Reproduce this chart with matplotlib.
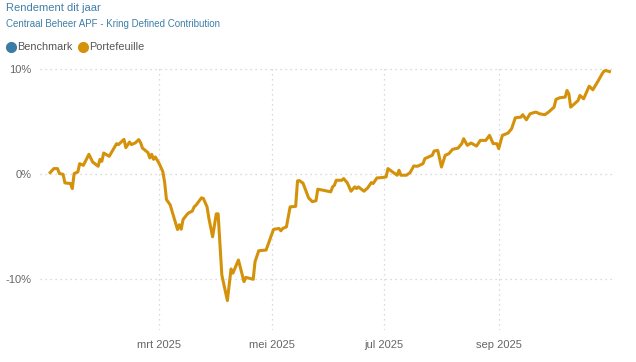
import pandas as pd
import matplotlib.pyplot as plt
import matplotlib.dates as mdates
from matplotlib.lines import Line2D
from matplotlib.ticker import FuncFormatter

plt.rcParams['font.family'] = ['Liberation Sans', 'DejaVu Sans']

# --- data (year-to-date return, %) ---
dates = [
    "2025-01-01", "2025-01-03", "2025-01-05", "2025-01-06", "2025-01-08", "2025-01-09",
    "2025-01-12", "2025-01-13", "2025-01-14", "2025-01-16", "2025-01-17", "2025-01-19",
    "2025-01-22", "2025-01-24", "2025-01-27", "2025-01-28", "2025-01-29", "2025-01-30",
    "2025-02-02", "2025-02-06", "2025-02-07", "2025-02-10", "2025-02-11", "2025-02-13",
    "2025-02-14", "2025-02-16", "2025-02-18", "2025-02-19", "2025-02-20", "2025-02-23",
    "2025-02-24", "2025-02-25", "2025-02-26", "2025-02-27", "2025-03-01", "2025-03-03",
    "2025-03-04", "2025-03-05", "2025-03-07", "2025-03-09", "2025-03-11", "2025-03-12",
    "2025-03-13", "2025-03-14", "2025-03-16", "2025-03-17", "2025-03-19", "2025-03-20",
    "2025-03-21", "2025-03-24", "2025-03-25", "2025-03-27", "2025-03-28", "2025-03-30",
    "2025-04-01", "2025-04-02", "2025-04-04", "2025-04-07", "2025-04-09", "2025-04-10",
    "2025-04-13", "2025-04-16", "2025-04-17", "2025-04-21", "2025-04-22", "2025-04-24",
    "2025-04-28", "2025-05-02", "2025-05-05", "2025-05-06", "2025-05-07", "2025-05-09",
    "2025-05-11", "2025-05-14", "2025-05-15", "2025-05-16", "2025-05-18", "2025-05-21",
    "2025-05-23", "2025-05-25", "2025-05-26", "2025-05-29", "2025-06-02", "2025-06-03",
    "2025-06-04", "2025-06-05", "2025-06-08", "2025-06-09", "2025-06-11", "2025-06-13",
    "2025-06-15", "2025-06-16", "2025-06-17", "2025-06-20", "2025-06-22", "2025-06-24",
    "2025-06-25", "2025-06-27", "2025-06-30", "2025-07-02", "2025-07-03", "2025-07-05",
    "2025-07-08", "2025-07-09", "2025-07-10", "2025-07-13", "2025-07-15", "2025-07-17",
    "2025-07-19", "2025-07-22", "2025-07-23", "2025-07-27", "2025-07-28", "2025-07-30",
    "2025-08-01", "2025-08-03", "2025-08-05", "2025-08-07", "2025-08-10", "2025-08-12",
    "2025-08-13", "2025-08-15", "2025-08-17", "2025-08-20", "2025-08-22", "2025-08-25",
    "2025-08-27", "2025-08-29", "2025-08-31", "2025-09-01", "2025-09-03", "2025-09-06",
    "2025-09-08", "2025-09-10", "2025-09-13", "2025-09-14", "2025-09-16", "2025-09-18",
    "2025-09-21", "2025-09-22", "2025-09-23", "2025-09-26", "2025-09-28", "2025-10-01",
    "2025-10-02", "2025-10-04", "2025-10-07", "2025-10-08", "2025-10-09", "2025-10-10",
    "2025-10-12", "2025-10-14", "2025-10-15", "2025-10-17", "2025-10-19", "2025-10-20",
    "2025-10-22", "2025-10-25", "2025-10-27", "2025-10-28", "2025-10-29", "2025-10-31",
]
portefeuille = [
    0.16, 0.54, 0.54, 0.07, 0.0, -0.82,
    -0.88, -1.36, 0.07, 0.22, 1.01, 0.85,
    1.9, 1.17, 0.76, 1.42, 1.23, 2.02,
    1.71, 2.91, 2.82, 3.32, 2.53, 3.06,
    2.82, 2.97, 3.29, 3.0, 2.49, 2.06,
    1.55, 1.9, 1.42, 1.64, 1.04, 0.27,
    -0.73, -2.4, -2.9, -4.07, -5.25, -4.8,
    -5.22, -4.3, -3.85, -3.67, -3.5, -3.1,
    -2.94, -2.24, -2.3, -3.1, -4.2, -5.94,
    -3.76, -3.76, -9.57, -12.0, -9.0, -9.4,
    -8.15, -10.2, -9.8, -9.98, -8.3, -7.27,
    -7.2, -5.24, -5.15, -5.37, -5.15, -5.0,
    -3.1, -3.05, -0.63, -0.6, -0.85, -2.24,
    -2.6, -2.52, -1.42, -1.52, -1.67, -1.2,
    -1.04, -0.57, -0.57, -0.41, -0.82, -1.61,
    -1.2, -1.36, -1.2, -1.61, -1.3, -0.79,
    -0.88, -0.35, -0.31, -0.25, 0.54, 0.28,
    -0.09, 0.38, -0.09, -0.09, 0.16, 0.79,
    0.76, 1.01, 1.49, 1.8, 2.21, 2.27,
    0.69, 1.8, 1.96, 2.37, 2.49, 2.91,
    3.38, 2.75, 2.97, 2.68, 3.22, 3.22,
    3.7, 2.91, 2.91, 2.44, 3.7, 3.91,
    4.33, 5.37, 5.43, 5.66, 5.18, 5.75,
    5.91, 5.85, 5.75, 5.66, 5.91, 6.38,
    7.11, 7.27, 7.33, 7.96, 7.65, 6.38,
    6.7, 7.01, 7.49, 7.17, 7.96, 8.37,
    8.03, 8.91, 9.54, 9.79, 9.86, 9.76,
]
month_ticks = ["2025-03-01", "2025-05-01", "2025-07-01", "2025-09-01"]
month_labels = ["mrt 2025", "mei 2025", "jul 2025", "sep 2025"]
y_ticks = [-10, 0, 10]

title = "Rendement dit jaar"
subtitle = "Centraal Beheer APF - Kring Defined Contribution"
legend_names = ["Benchmark", "Portefeuille"]
legend_colors = ["#3b7ca5", "#d4920b"]

# --- figure ---
fig = plt.figure(figsize=(6.36, 3.62), dpi=100)
ax = fig.add_axes([40 / 636, 32 / 362, 575 / 636, 262 / 362])

x = pd.to_datetime(dates)
ax.plot(x, portefeuille, color=legend_colors[1], lw=2.2, solid_joinstyle='round')

ax.set_xlim(pd.Timestamp("2024-12-26 12:00"), pd.Timestamp("2025-11-03"))
ax.set_ylim(-14.8, 10.1)

ax.set_xticks(pd.to_datetime(month_ticks))
ax.set_xticklabels(month_labels)
ax.set_yticks(y_ticks)
ax.yaxis.set_major_formatter(FuncFormatter(lambda v, p: f"{v:.0f}%"))

for s in ax.spines.values():
    s.set_visible(False)
ax.tick_params(length=0, labelsize=8, labelcolor="#666666")
ax.tick_params(axis='y', pad=6)
ax.tick_params(axis='x', pad=7)
ax.grid(True, color="#cfcfcf", lw=0.9, linestyle=(0, (1, 3)))
ax.set_axisbelow(True)

# title block
fig.text(6 / 636, 1 - 8 / 362, title, color="#3f7fa8", fontsize=8, va='center', ha='left')
fig.text(6 / 636, 1 - 24 / 362, subtitle, color="#3f7fa8", fontsize=7, va='center', ha='left')

# legend
leg_y = 1 - 46.5 / 362
leg_x = [11, 83]
for lx, name, col in zip(leg_x, legend_names, legend_colors):
    fig.add_artist(Line2D([lx / 636], [leg_y], marker='o', markersize=7, color=col,
                          transform=fig.transFigure, linestyle='none'))
    fig.text((lx + 6) / 636, leg_y, name, color="#555555", fontsize=7.8, va='center', ha='left')

fig.savefig("out.png", dpi=100)
